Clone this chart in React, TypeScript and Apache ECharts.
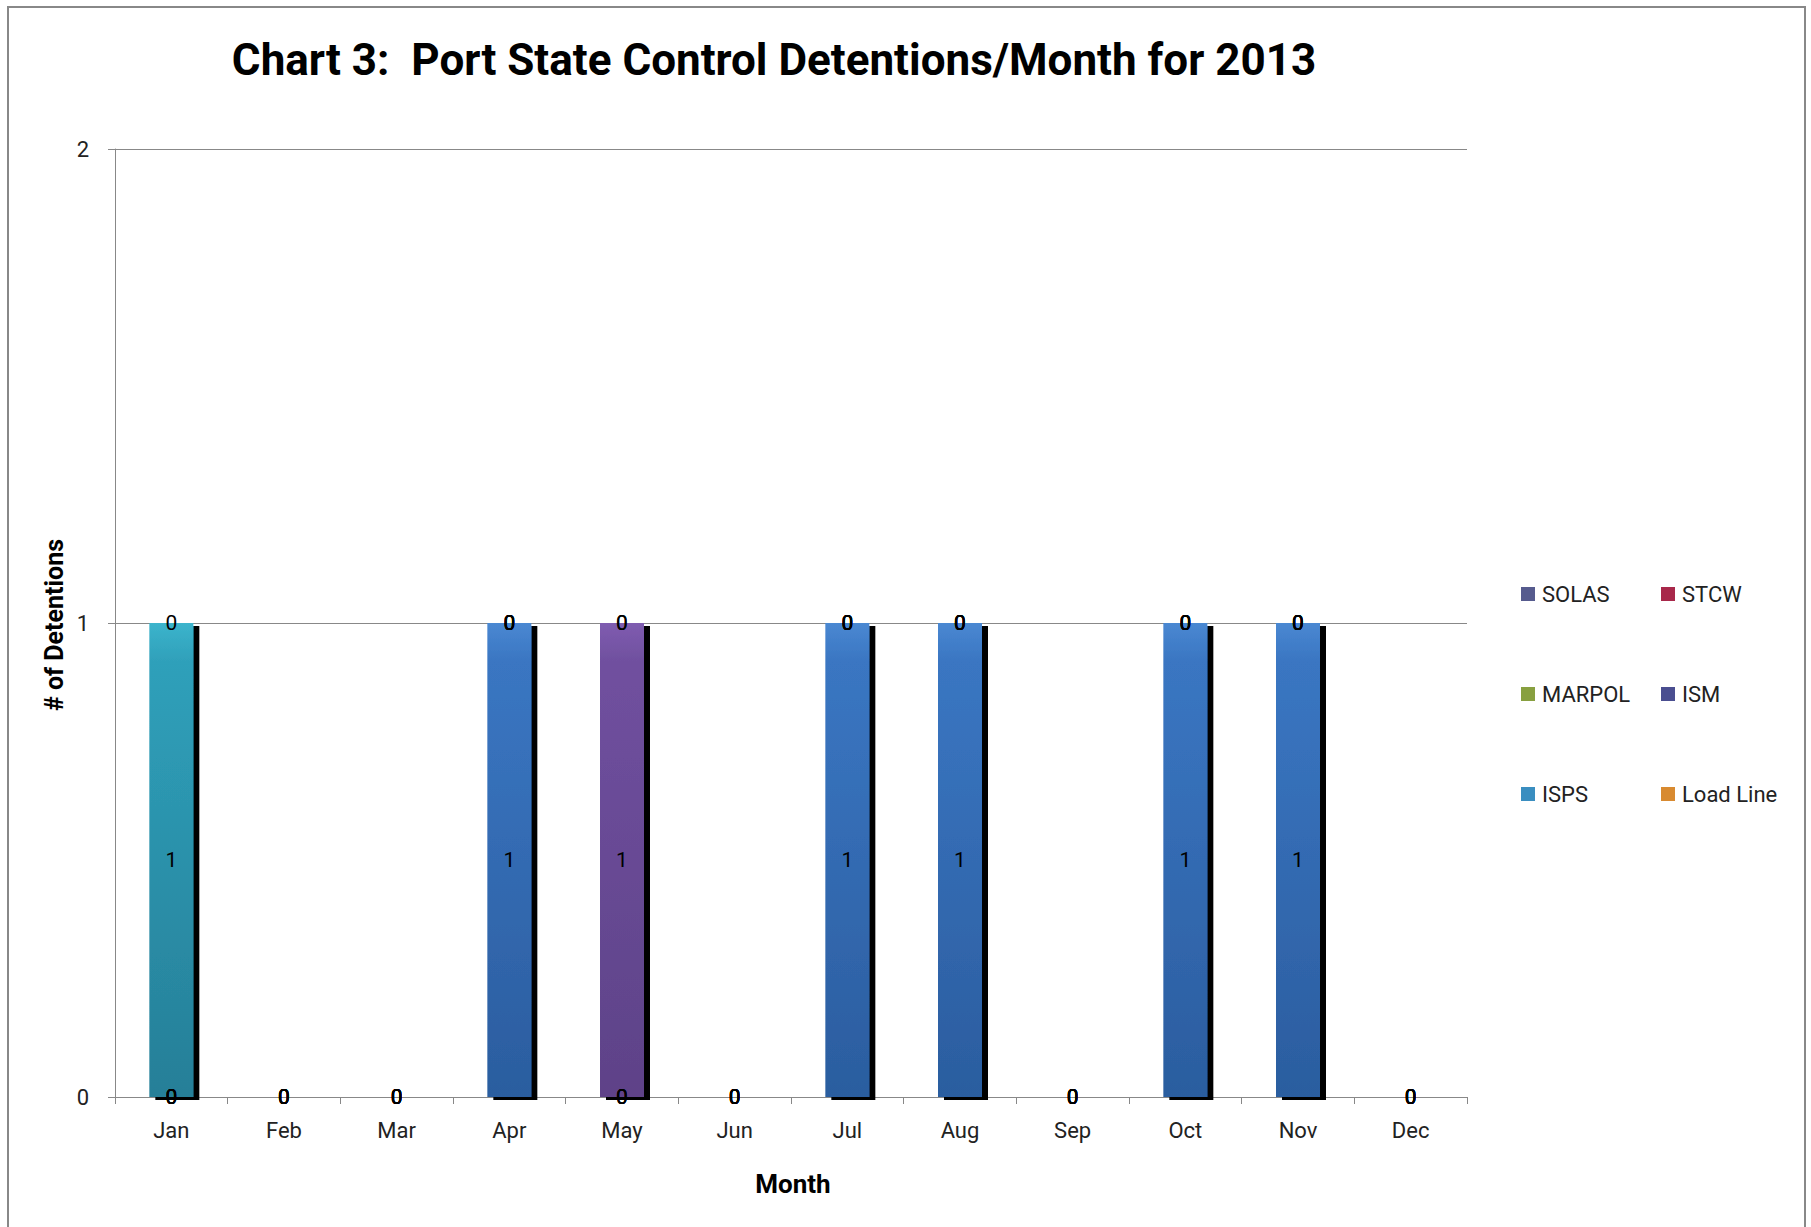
import React, { useEffect, useRef } from "react";
import * as echarts from "echarts";

const months = ["Jan", "Feb", "Mar", "Apr", "May", "Jun", "Jul", "Aug", "Sep", "Oct", "Nov", "Dec"];
const seriesNames = ["SOLAS", "STCW", "MARPOL", "ISM", "ISPS", "Load Line"];
const solas = [0, 0, 0, 1, 0, 0, 1, 1, 0, 1, 1, 0];
const stcw = [0, 0, 0, 0, 0, 0, 0, 0, 0, 0, 0, 0];
const marpol = [0, 0, 0, 0, 0, 0, 0, 0, 0, 0, 0, 0];
const ism = [0, 0, 0, 0, 1, 0, 0, 0, 0, 0, 0, 0];
const isps = [1, 0, 0, 0, 0, 0, 0, 0, 0, 0, 0, 0];
const loadLine = [0, 0, 0, 0, 0, 0, 0, 0, 0, 0, 0, 0];
const yTicks = [0, 1, 2];

const titleText = "Chart 3:  Port State Control Detentions/Month for 2013";
const yName = "# of Detentions";
const xName = "Month";

const barStops: string[][] = [
  ["#4A88D2", "#3A76C2", "#2B5D9F"],
  ["#C8505A", "#B0404A", "#8E2E3A"],
  ["#A6C060", "#94AE50", "#7A9440"],
  ["#7F5CB0", "#70509F", "#5E4288"],
  ["#3CB4CC", "#2FA0BA", "#267F98"],
  ["#F4A050", "#E08A38", "#C07028"],
];
const legendColors = ["#565B8E", "#A8284A", "#88A040", "#4A4E90", "#3A8EC0", "#D88A30"];

export default function App() {
  const ref = useRef<HTMLDivElement>(null);
  useEffect(() => {
    if (!ref.current) return;
    const chart = echarts.init(ref.current, null, { renderer: "svg" });
    const data = [solas, stcw, marpol, ism, isps, loadLine];
    const series = seriesNames.map((name, i) => ({
      name,
      type: "bar",
      stack: "total",
      barWidth: 44,
      data: data[i],
      itemStyle: {
        color: new echarts.graphic.LinearGradient(0, 0, 0, 1, [
          { offset: 0, color: barStops[i][0] },
          { offset: 0.08, color: barStops[i][1] },
          { offset: 1, color: barStops[i][2] },
        ]),
        shadowColor: "#000",
        shadowBlur: 0,
        shadowOffsetX: 6,
        shadowOffsetY: 3,
      },
      label: {
        show: true,
        position: "inside",
        color: "#000",
        fontSize: 21,
        fontFamily: "Roboto",
        formatter: "{c}",
      },
    }));
    const legendItem = (n: string) => ({
      name: n,
      itemStyle: { color: legendColors[seriesNames.indexOf(n)] },
    });
    const legendCommon = {
      orient: "vertical",
      icon: "rect",
      itemWidth: 14,
      itemHeight: 14,
      itemGap: 78,
      top: 578,
      textStyle: { fontSize: 22, fontFamily: "Roboto", color: "#222", lineHeight: 22, padding: [0, 0, 0, 2] },
    };
    chart.setOption({
      animation: false,
      backgroundColor: "#fff",
      textStyle: { fontFamily: "Roboto" },
      grid: { left: 115, top: 149, right: 344, bottom: 130, containLabel: false },
      legend: [
        { ...legendCommon, left: 1516, data: ["SOLAS", "MARPOL", "ISPS"].map(legendItem) },
        { ...legendCommon, left: 1656, data: ["STCW", "ISM", "Load Line"].map(legendItem) },
      ],
      xAxis: {
        type: "category",
        data: months,
        boundaryGap: true,
        axisLine: { lineStyle: { color: "#888", width: 1 } },
        axisTick: { show: true, length: 7, alignWithLabel: false, lineStyle: { color: "#888" } },
        axisLabel: { fontSize: 22, color: "#222", margin: 22 },
      },
      yAxis: {
        type: "value",
        min: yTicks[0],
        max: yTicks[yTicks.length - 1],
        interval: 1,
        axisLine: { show: true, lineStyle: { color: "#888", width: 1 } },
        axisTick: { show: true, length: 7, lineStyle: { color: "#888" } },
        axisLabel: { fontSize: 22, color: "#222", margin: 26 },
        splitLine: { show: true, lineStyle: { color: "#888", width: 1 } },
      },
      graphic: [
        {
          type: "rect",
          z: -10,
          silent: true,
          shape: { x: 8, y: 7, width: 1797, height: 1240 },
          style: { fill: "none", stroke: "#888", lineWidth: 2 },
        },
        {
          type: "text",
          x: 774,
          y: 60,
          style: {
            text: titleText,
            fontSize: 44,
            fontWeight: "bold",
            fontFamily: "Roboto",
            fill: "#000",
            align: "center",
            verticalAlign: "middle",
          },
        },
        {
          type: "text",
          x: 54,
          y: 625,
          rotation: Math.PI / 2,
          style: {
            text: yName,
            fontSize: 25,
            fontWeight: "bold",
            fontFamily: "Roboto",
            fill: "#000",
            align: "center",
            verticalAlign: "middle",
          },
        },
        {
          type: "text",
          x: 793,
          y: 1184,
          style: {
            text: xName,
            fontSize: 26,
            fontWeight: "bold",
            fontFamily: "Roboto",
            fill: "#000",
            align: "center",
            verticalAlign: "middle",
          },
        },
      ],
      series,
    });
    return () => chart.dispose();
  }, []);
  return (
    <div
      ref={ref}
      style={{ position: "fixed", left: 0, top: 0, width: 1811, height: 1227 }}
    />
  );
}
